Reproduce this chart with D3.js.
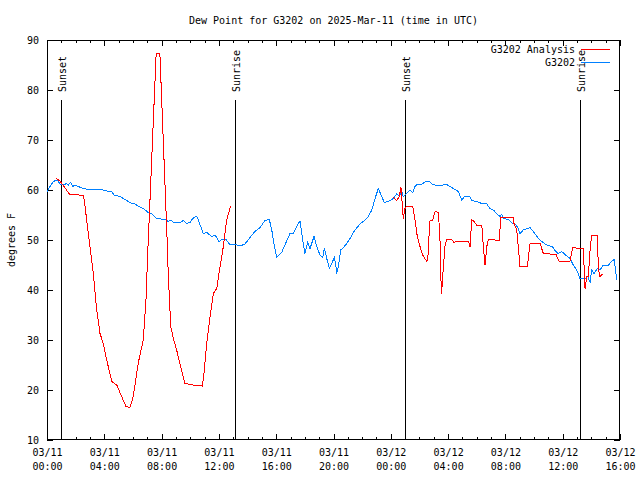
<!DOCTYPE html>
<html><head><meta charset="utf-8">
<script src="https://cdn.jsdelivr.net/npm/d3@7/dist/d3.min.js"></script>
<style>
body{margin:0;background:#fff}
text{font-family:"DejaVu Sans Mono","Liberation Mono",monospace;font-size:10px;fill:#000}
</style>
</head><body>
<svg id="c" width="640" height="480"></svg>
<script>
// Hours after 2025-03-11 00:00 UTC
const analysisHours = [0.63,0.91,1.56,2.53,2.6,2.77,3.0,3.23,3.47,3.7,3.93,4.17,4.52,4.87,5.51,5.79,6.02,6.37,6.72,6.91,7.03,7.19,7.62,7.88,8.36,8.47,8.64,8.82,9.05,9.28,9.63,10.21,10.84,10.96,11.15,11.38,11.61,11.85,12.08,12.31,12.54,12.81,
  18.0,
  24.17,24.41,24.59,24.71,24.83,24.87,24.99,25.11,25.41,25.53,25.69,25.85,26.04,26.23,26.51,26.58,26.69,26.74,26.93,27.09,27.32,27.43,27.48,27.55,27.62,27.78,27.9,28.25,28.41,28.71,29.41,29.53,29.65,29.76,30.0,30.35,30.46,30.58,30.7,30.81,31.16,31.39,31.58,31.67,32.55,32.6,32.79,32.9,33.02,33.53,33.72,34.42,34.65,35.53,35.76,36.51,36.7,37.16,37.44,37.51,37.56,37.68,37.79,37.91,38.02,38.42,38.49,38.6,38.79];
const analysisValues = [62.3,61.8,59.2,58.9,58,54,48.7,43.3,36,31.3,29.3,26,21.7,21,16.7,16.5,18.7,25.4,30,38,47.3,58,87.3,87.3,52,42.7,32.7,30.3,28,25.3,21.3,21,20.8,23.3,29.3,34.7,39.3,40.3,44.7,48.7,54,56.7,
  null,
  58.5,57.9,58.7,60.5,56,54.3,56.3,56.7,56.7,56.7,54,50.7,48.7,47,45.7,46,51.9,54,54,55.7,55.5,50.7,43.3,39.3,42.7,48.7,50.1,50.1,49.5,49.8,49.8,48.7,54,53.9,53,53,48.7,45,48.7,50,50.1,49.9,49.9,54.5,54.5,53.3,52,48.7,44.7,44.7,49.3,49.3,47.3,47.1,45.7,45.7,48.5,48.3,48.3,43.3,40.3,42.7,42.7,48,51,51,44.3,42.7,43.2];

const stationHours = [0.02,0.21,0.44,0.68,0.79,0.91,1.14,1.38,1.49,1.65,1.79,1.95,2.18,2.53,2.88,3.58,3.93,4.28,4.52,4.68,5.1,5.45,5.68,5.91,6.14,6.37,6.72,7.07,7.31,7.66,8.24,8.47,8.64,8.82,9.28,9.51,9.75,9.98,10.17,10.45,10.56,10.91,11.15,11.5,11.73,12.01,12.2,12.5,12.78,13.12,13.47,13.82,14.17,14.52,14.87,15.22,15.52,15.69,15.8,16.03,16.38,16.61,16.96,17.2,17.43,17.66,17.89,18.01,18.2,18.36,18.64,18.87,19.06,19.25,19.36,19.53,19.71,19.87,20.06,20.17,20.22,20.34,20.5,20.64,20.92,21.15,21.5,21.85,22.2,22.43,22.67,22.9,23.13,23.36,23.55,23.83,24.17,24.41,24.59,24.76,24.87,25.11,25.34,25.53,25.69,25.85,26.16,26.46,26.69,26.86,27.2,27.55,27.85,28.13,28.48,28.71,28.95,29.18,29.48,29.65,30.0,30.35,30.7,30.93,31.16,31.39,31.62,31.74,31.85,32.2,32.51,32.74,32.9,33.02,33.25,33.72,33.95,34.3,34.53,34.88,35.27,35.51,35.69,35.93,36.16,36.51,36.74,36.98,37.21,37.56,37.75,37.91,38.02,38.18,38.42,38.6,38.84,39.19,39.42,39.6,39.77];
const stationValues = [59.7,60.7,61.7,62,61.7,61.2,61,61.3,61,61.5,60.7,61,60.7,60.3,60.1,60.2,60,59.7,59.7,59,58.7,58.1,57.7,57.3,57.2,56.8,56.3,55.5,55.2,54.3,54.1,53.7,54,53.5,53.5,53.9,53.3,53.5,54.3,54.8,54,51.3,51.5,50.7,51,49.7,50.1,50.1,49,49.1,48.8,49.2,50.5,51.7,52.5,53.9,54.1,52,50,46.5,47.5,49,51.3,51.3,52.7,53.8,49.3,47.3,49.5,48.3,50.7,48.3,47,46.5,48.3,46.3,44.3,45.3,46.5,44.7,43.3,44.7,48,48.3,49.3,50.3,52,53.2,54,54.7,56,58.3,60.3,58.7,57.5,57.7,58.3,59.2,58.7,59.7,58.7,59.3,60,59.5,60.7,61.2,61.2,61.7,61.7,61.2,60.9,60.9,61.2,60.7,60.1,59.7,58,58.8,58.8,57.9,57.7,57.3,57.2,56.3,56,55.3,54.7,55.1,54.3,54.1,53.3,53,52.3,51.3,52,52.5,51.7,50.3,49.7,49,48.7,47.7,47.3,47.7,47.1,46.3,45,44,42.3,42.3,42.7,41.5,44,43.3,44.3,44,45,45,45.7,46.1,42];

const sunLabels = ["Sunset","Sunrise","Sunset","Sunrise"];
const sunHours = [0.98,13.12,24.99,37.21];

const seriesNames = ["G3202 Analysis","G3202"];
const seriesColors = ["#ff0000","#0080ff"];
const yTicks = [10,20,30,40,50,60,70,80,90];
const titleText = "Dew Point for G3202 on 2025-Mar-11 (time in UTC)";
const yLabel = "degrees F";

const base = Date.UTC(2025,2,11,0,0);
const toDate = h => new Date(base + h*3600000);

const L=47,R=620,T=40,B=440;
const svg = d3.select("#c");
const x = d3.scaleUtc().domain([toDate(0), toDate(40)]).range([L,R]);
const y = d3.scaleLinear().domain([10,90]).range([B,T]);

const majorT = d3.range(0,41,4).map(toDate);
const minorT = d3.range(0,41,1).filter(h=>h%4!==0).map(toDate);

// frame
svg.append("rect").attr("x",L+0.5).attr("y",T+0.5).attr("width",R-L-1).attr("height",B-T-1)
  .attr("fill","none").attr("stroke","#000").attr("shape-rendering","crispEdges");

function clean(g){ g.select(".domain").remove(); g.selectAll("line").attr("stroke","#000").attr("shape-rendering","crispEdges"); }

// bottom axis
const fmt1 = d3.utcFormat("%m/%d"), fmt2 = d3.utcFormat("%H:%M");
const gb = svg.append("g").attr("transform",`translate(0,${B})`)
  .call(d3.axisBottom(x).tickValues(majorT).tickSizeInner(-6).tickSizeOuter(0).tickPadding(0).tickFormat(""));
clean(gb);
gb.selectAll(".tick").each(function(d){
  const t = d3.select(this).append("text").attr("text-anchor","middle").attr("fill","#000").attr("y",16);
  t.append("tspan").attr("x",0).text(fmt1(d));
  t.append("tspan").attr("x",0).attr("dy",14).text(fmt2(d));
});
const gbm = svg.append("g").attr("transform",`translate(0,${B})`)
  .call(d3.axisBottom(x).tickValues(minorT).tickSizeInner(-3).tickSizeOuter(0).tickFormat(""));
clean(gbm);
// top axis
const gt = svg.append("g").attr("transform",`translate(0,${T})`)
  .call(d3.axisTop(x).tickValues(majorT).tickSizeInner(-6).tickSizeOuter(0).tickFormat(""));
clean(gt);
const gtm = svg.append("g").attr("transform",`translate(0,${T})`)
  .call(d3.axisTop(x).tickValues(minorT).tickSizeInner(-3).tickSizeOuter(0).tickFormat(""));
clean(gtm);
// left axis
const gl = svg.append("g").attr("transform",`translate(${L},0)`)
  .call(d3.axisLeft(y).tickValues(yTicks).tickSizeInner(-6).tickSizeOuter(0).tickPadding(8));
clean(gl);
gl.selectAll("text").attr("fill","#000").style("font-size","10px").style("font-family",'"DejaVu Sans Mono",monospace');
// right axis
const gr = svg.append("g").attr("transform",`translate(${R},0)`)
  .call(d3.axisRight(y).tickValues(yTicks).tickSizeInner(-6).tickSizeOuter(0).tickFormat(""));
clean(gr);

// sun lines
sunHours.forEach((h,i)=>{
  const sx = Math.round(x(toDate(h)))+0.5;
  svg.append("line").attr("x1",sx).attr("x2",sx).attr("y1",y(78)).attr("y2",B)
    .attr("stroke","#000").attr("stroke-width",1).attr("shape-rendering","crispEdges");
  svg.append("text").attr("transform",`translate(${sx+4},${y(79.6)}) rotate(-90)`)
    .attr("text-anchor","start").text(sunLabels[i]);
});

// series
const line = d3.line().defined(d=>d[1]!==null).x(d=>x(toDate(d[0]))).y(d=>y(d[1]));
const sData = stationHours.map((h,i)=>[h,stationValues[i]]);
const aData = analysisHours.map((h,i)=>[h,analysisValues[i]]);
svg.append("path").datum(sData).attr("d",line).attr("fill","none").attr("stroke",seriesColors[1])
  .attr("stroke-width",1).attr("shape-rendering","crispEdges");
svg.append("path").datum(aData).attr("d",line).attr("fill","none").attr("stroke",seriesColors[0])
  .attr("stroke-width",1).attr("shape-rendering","crispEdges");

// legend
seriesNames.forEach((n,i)=>{
  const ly = 49.5 + i*12.5;
  svg.append("text").attr("x",575).attr("y",ly+3.5).attr("text-anchor","end").text(n);
  svg.append("line").attr("x1",581).attr("x2",610).attr("y1",ly).attr("y2",ly)
    .attr("stroke",seriesColors[i]).attr("stroke-width",1).attr("shape-rendering","crispEdges");
});

// title and y label
svg.append("text").attr("x",(L+R)/2).attr("y",23.5).attr("text-anchor","middle").text(titleText);
svg.append("text").attr("transform",`translate(15,${(T+B)/2}) rotate(-90)`).attr("text-anchor","middle").text(yLabel);
</script>
</body></html>
